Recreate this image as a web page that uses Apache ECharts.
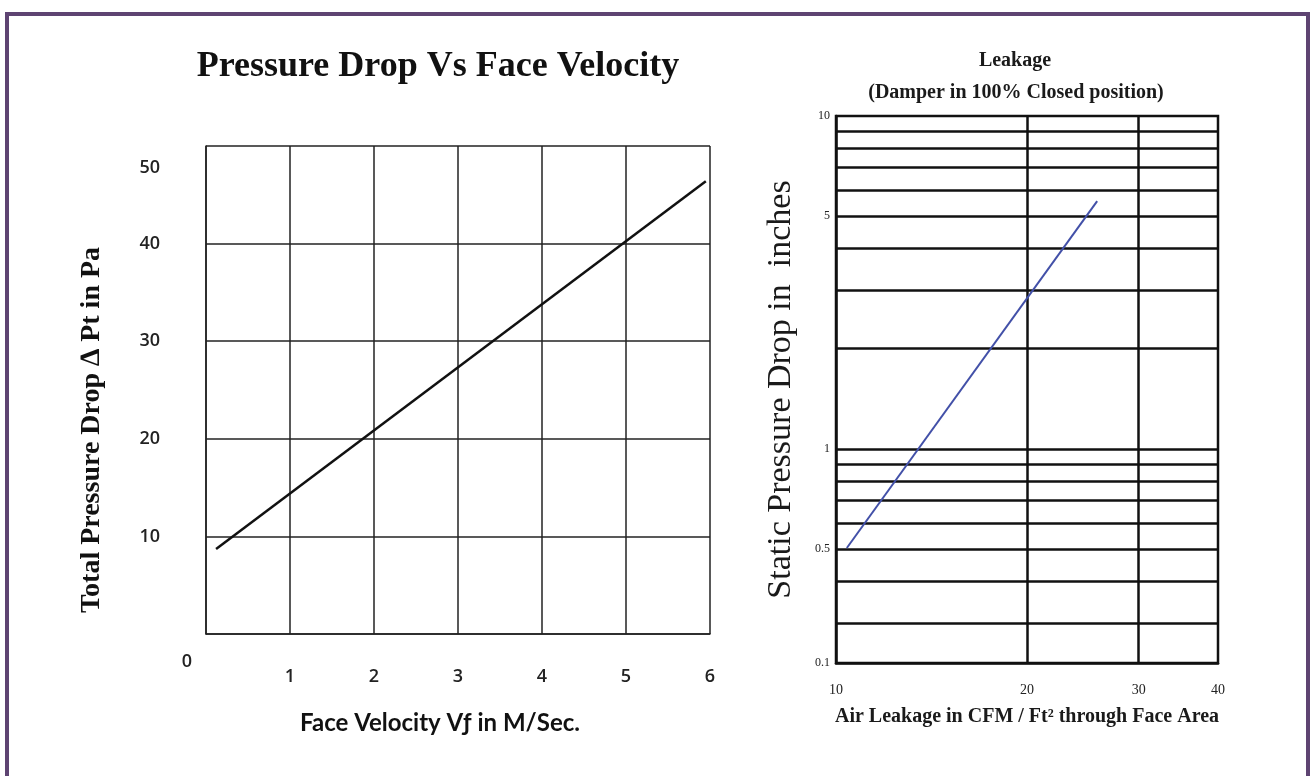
<!DOCTYPE html>
<html><head><meta charset="utf-8">
<script src="https://cdn.jsdelivr.net/npm/echarts@6/dist/echarts.min.js"></script>
<style>html,body{margin:0;padding:0;background:#fff}#c{width:1311px;height:776px}</style>
</head><body><div id="c"></div>
<script>
// Left chart data
const velocity = [0.12, 5.95];
const pressureDropPa = [8.7, 46.4];
const leftXTicks = [0, 1, 2, 3, 4, 5, 6];
const leftYTicks = [0, 10, 20, 30, 40, 50];
// Right chart data
const leakageCfm = [10.4, 25.8];
const staticDropIn = [0.504, 5.55];
const rightXLabels = [10, 20, 30, 40];
const rightXGrid = [20, 30];
const rightYBottom = 0.2275;
const rightYLabelValues = [0.2285, 0.5, 1, 5, 10];
const rightYLabelText = ['0.1', '0.5', '1', '5', '10'];
const rightYGrid = [0.3, 0.4, 0.5, 0.6, 0.7, 0.8, 0.9, 1, 2, 3, 4, 5, 6, 7, 8, 9];

const leftData = velocity.map((v, i) => [v, pressureDropPa[i]]);
const rightData = leakageCfm.map((v, i) => [v, staticDropIn[i]]);

const chart = echarts.init(document.getElementById('c'), null, {renderer: 'canvas'});
const serif = 'Liberation Serif';
const sans = 'Lato';
const gl = {color: '#222', width: 1.5};
const gr = {color: '#111', width: 2.5};

chart.setOption({
  backgroundColor: '#fff',
  animation: false,
  graphic: [
    {type: 'rect', shape: {x: 7, y: 14, width: 1301, height: 800}, style: {fill: 'none', stroke: '#5e4472', lineWidth: 4}, silent: true},
    {type: 'text', x: 438, y: 67, style: {text: 'Pressure Drop Vs Face Velocity', fontFamily: serif, fontSize: 36, fontWeight: 'bold', fill: '#111', align: 'center', verticalAlign: 'middle'}},
    {type: 'text', x: 1015, y: 61, style: {text: 'Leakage', fontFamily: serif, fontSize: 20, fontWeight: 'bold', fill: '#1a1a1a', align: 'center', verticalAlign: 'middle'}},
    {type: 'text', x: 1016, y: 93, style: {text: '(Damper in 100% Closed position)', fontFamily: serif, fontSize: 20, fontWeight: 'bold', fill: '#1a1a1a', align: 'center', verticalAlign: 'middle'}}
  ],
  grid: [
    {left: 206, top: 146, width: 504, height: 488, show: false},
    {left: 836, top: 116, width: 382, height: 547, show: true, borderColor: '#111', borderWidth: 2.5, backgroundColor: 'transparent'}
  ],
  xAxis: [
    {
      type: 'value', gridIndex: 0, min: leftXTicks[0], max: leftXTicks[leftXTicks.length - 1], interval: 1,
      axisLine: {show: true, lineStyle: gl}, axisTick: {show: false},
      splitLine: {show: true, lineStyle: gl},
      axisLabel: {
        margin: 19, fontFamily: 'Open Sans', fontSize: 18, fontWeight: 600, color: '#222',
        formatter: v => v === 0 ? '{z|0}' : '{n|' + v + '}',
        rich: {z: {padding: [0, 38, 0, 0], fontFamily: 'Open Sans', fontSize: 18, fontWeight: 600, color: '#222'},
               n: {padding: [15, 0, 0, 0], fontFamily: 'Open Sans', fontSize: 18, fontWeight: 600, color: '#222'}}
      },
      name: 'Face Velocity Vƒ in M/Sec.', nameLocation: 'middle', nameGap: 77,
      nameTextStyle: {fontFamily: sans, fontSize: 24, fontWeight: 'bold', color: '#111', padding: [0, 36, 0, 0]}
    },
    {
      type: 'log', logBase: 10, gridIndex: 1, min: rightXLabels[0], max: rightXLabels[rightXLabels.length - 1],
      axisLine: {show: true, lineStyle: gr},
      axisTick: {show: false, customValues: rightXGrid},
      axisLabel: {customValues: rightXLabels, margin: 20, fontFamily: serif, fontSize: 14, color: '#222', formatter: v => String(Math.round(v))},
      splitLine: {show: true, lineStyle: gr},
      name: 'Air Leakage in CFM / Ft² through Face Area', nameLocation: 'middle', nameGap: 44,
      nameTextStyle: {fontFamily: serif, fontSize: 20, fontWeight: 'bold', color: '#1a1a1a'}
    }
  ],
  yAxis: [
    {
      type: 'value', gridIndex: 0, min: leftYTicks[0], max: leftYTicks[leftYTicks.length - 1], interval: 10,
      axisLine: {show: true, lineStyle: gl}, axisTick: {show: false},
      splitLine: {show: true, lineStyle: gl},
      axisLabel: {
        margin: 46, fontFamily: 'Open Sans', fontSize: 18, fontWeight: 600, color: '#222',
        formatter: v => v === 0 ? '' : (v === 50 ? '{t|50}' : String(v)),
        rich: {t: {padding: [44, 0, 0, 0], fontFamily: 'Open Sans', fontSize: 18, fontWeight: 600, color: '#222'}}
      },
      name: 'Total Pressure Drop ∆ Pt in Pa', nameLocation: 'middle', nameGap: 100,
      nameTextStyle: {fontFamily: serif, fontSize: 28, fontWeight: 'bold', color: '#111', padding: [0, 80, 0, 0]}
    },
    {
      type: 'log', logBase: 10, gridIndex: 1, min: rightYBottom, max: 10,
      axisLine: {show: true, lineStyle: gr},
      axisTick: {show: false, customValues: rightYGrid},
      axisLabel: {
        customValues: rightYLabelValues, margin: 6, fontFamily: serif, fontSize: 12, color: '#222',
        formatter: v => {
          let best = 0;
          rightYLabelValues.forEach((c, i) => { if (Math.abs(Math.log(c) - Math.log(v)) < Math.abs(Math.log(rightYLabelValues[best]) - Math.log(v))) best = i; });
          return rightYLabelText[best];
        }
      },
      splitLine: {show: true, lineStyle: gr},
      name: 'Static Pressure Drop in  inches', nameLocation: 'middle', nameGap: 38,
      nameTextStyle: {fontFamily: serif, fontSize: 34, color: '#1a1a1a'}
    }
  ],
  series: [
    {type: 'line', xAxisIndex: 0, yAxisIndex: 0, data: leftData, showSymbol: false, lineStyle: {color: '#111', width: 2.5}},
    {type: 'line', xAxisIndex: 1, yAxisIndex: 1, data: rightData, showSymbol: false, lineStyle: {color: '#4250a8', width: 2}}
  ]
});
</script></body></html>
